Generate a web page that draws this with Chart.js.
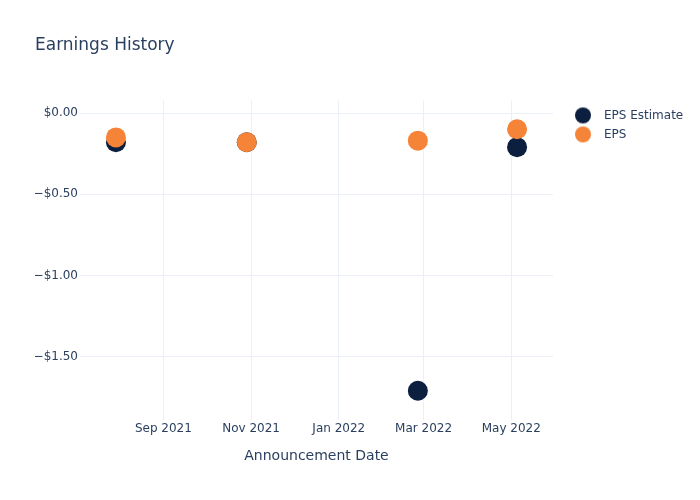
<!DOCTYPE html>
<html>
<head>
<meta charset="utf-8">
<script src="https://cdn.jsdelivr.net/npm/chart.js@4"></script>
<style>
  body { margin: 0; background: #fff; }
</style>
</head>
<body>
<canvas id="epsChart" width="700" height="500"></canvas>
<script>
const announceDates = ['2021-07-30', '2021-10-29', '2022-02-25', '2022-05-05'];
const epsEstimate = [-0.18, -0.18, -1.71, -0.21];
const epsActual = [-0.15, -0.18, -0.17, -0.10];
const xTickDates = ['2021-09-01', '2021-11-01', '2022-01-01', '2022-03-01', '2022-05-01'];
const xTickLabels = ['Sep 2021', 'Nov 2021', 'Jan 2022', 'Mar 2022', 'May 2022'];
const yTicks = [0, -0.5, -1, -1.5];

const toTime = d => Date.parse(d + 'T00:00:00Z');
const textColor = '#2a3f5f';
const gridColor = '#ebf0f8';
const font = "'DejaVu Sans', sans-serif";
const estColor = '#0c1f3f';
const epsColor = '#f58338';

// legend marker: a circle sitting inside a wider box, so the label gap matches
function legendDot(color) {
    const c = document.createElement('canvas');
    c.width = 38;
    c.height = 18;
    const g = c.getContext('2d');
    g.fillStyle = color;
    g.beginPath();
    g.arc(23, 9, 8, 0, Math.PI * 2);
    g.fill();
    return c;
}

// legend box width fixed so the plot ends where the reference does
const legendWidth = {
    id: 'legendWidth',
    beforeInit(chart) {
        const fit = chart.legend.fit;
        chart.legend.fit = function () {
            fit.call(this);
            this.width = 147;
        };
    }
};

const ctx = document.getElementById('epsChart').getContext('2d');
new Chart(ctx, {
    type: 'scatter',
    data: {
        datasets: [{
            label: 'EPS Estimate',
            data: announceDates.map((d, i) => ({ x: toTime(d), y: epsEstimate[i] })),
            backgroundColor: estColor,
            borderColor: estColor,
            pointRadius: 10,
            pointBorderWidth: 0,
            pointStyle: 'circle',
            order: 2
        }, {
            label: 'EPS',
            data: announceDates.map((d, i) => ({ x: toTime(d), y: epsActual[i] })),
            backgroundColor: epsColor,
            borderColor: epsColor,
            pointRadius: 10,
            pointBorderWidth: 0,
            pointStyle: 'circle',
            order: 1
        }]
    },
    options: {
        responsive: false,
        animation: false,
        layout: { padding: { left: 35, right: 0, top: 0, bottom: 35 } },
        plugins: {
            tooltip: { enabled: false },
            title: {
                display: true,
                text: 'Earnings History',
                align: 'start',
                color: textColor,
                font: { family: font, size: 17, weight: 'normal' },
                padding: { top: 35, bottom: 45 }
            },
            legend: {
                position: 'right',
                align: 'start',
                title: {
                    display: true,
                    text: '',
                    font: { family: font, size: 12 },
                    padding: { top: 88, bottom: 0 }
                },
                labels: {
                    usePointStyle: true,
                    pointStyleWidth: 38,
                    boxHeight: 12,
                    padding: 7,
                    color: textColor,
                    font: { family: font, size: 12 },
                    sort: (a, b) => a.datasetIndex - b.datasetIndex,
                    generateLabels: chart => {
                        const items = Chart.defaults.plugins.legend.labels.generateLabels(chart);
                        items.forEach(item => {
                            item.pointStyle = legendDot(chart.data.datasets[item.datasetIndex].backgroundColor);
                        });
                        return items;
                    }
                }
            }
        },
        scales: {
            x: {
                type: 'linear',
                min: toTime('2021-07-05'),
                max: toTime('2022-05-30'),
                afterBuildTicks: axis => {
                    axis.ticks = xTickDates.map(d => ({ value: toTime(d) }));
                },
                ticks: {
                    color: textColor,
                    font: { family: font, size: 12 },
                    padding: 2,
                    maxRotation: 0,
                    callback: (v, i) => xTickLabels[i]
                },
                grid: { color: gridColor, drawTicks: false },
                border: { display: false },
                title: {
                    display: true,
                    text: 'Announcement Date',
                    color: textColor,
                    font: { family: font, size: 14 },
                    padding: { top: 10, bottom: 0 }
                }
            },
            y: {
                min: -1.889,
                max: 0.078,
                afterBuildTicks: axis => {
                    axis.ticks = yTicks.map(v => ({ value: v }));
                },
                afterFit: axis => { axis.width = 45; },
                ticks: {
                    color: textColor,
                    font: { family: font, size: 12 },
                    padding: 2,
                    callback: v => (v < 0 ? '\u2212$' : '$') + Math.abs(v).toFixed(2)
                },
                grid: { color: gridColor, drawTicks: false },
                border: { display: false }
            }
        }
    },
    plugins: [legendWidth]
});
</script>
</body>
</html>
